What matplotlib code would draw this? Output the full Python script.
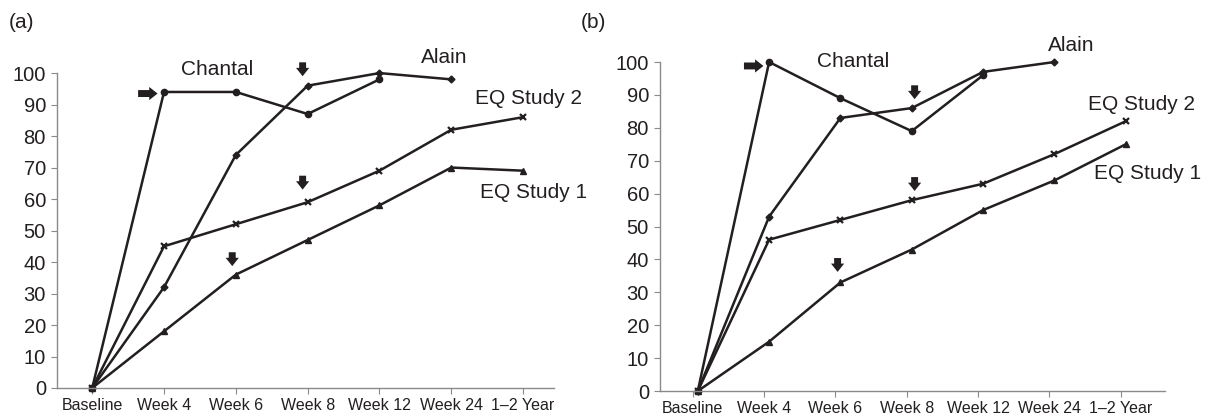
import numpy as np
import matplotlib
matplotlib.use('Agg')
import matplotlib.pyplot as plt

plt.rcParams['font.family'] = ['Liberation Sans', 'DejaVu Sans']

categories = ['Baseline', 'Week 4', 'Week 6', 'Week 8', 'Week 12', 'Week 24', '1\u20132 Year']

# panel (a)
chantal_a = [0, 94, 94, 87, 98]
alain_a = [0, 32, 74, 96, 100, 98]
eq2_a = [0, 45, 52, 59, 69, 82, 86]
eq1_a = [0, 18, 36, 47, 58, 70, 69]

# panel (b)
chantal_b = [0, 100, 89, 79, 96]
alain_b = [0, 53, 83, 86, 97, 100]
eq2_b = [0, 46, 52, 58, 63, 72, 82]
eq1_b = [0, 15, 33, 43, 55, 64, 75]

INK = '#231f20'


def arrow(ax, x, y, direction):
    # block arrow, tip at (x, y)
    if direction == 'down':
        off = (0, 10)
    else:
        off = (-14, 0)
    ax.annotate('', xy=(x, y), xytext=off, textcoords='offset points',
                arrowprops=dict(arrowstyle='simple,head_length=0.6,head_width=0.95,tail_width=0.5',
                                color=INK, lw=0, shrinkA=0, shrinkB=0),
                annotation_clip=False)


def draw_panel(ax, chantal, alain, eq2, eq1, shift):
    x = np.arange(len(categories)) + shift
    kw = dict(color=INK, lw=1.8, clip_on=False)
    ax.plot(x[:len(chantal)], chantal, marker='o', ms=4.5, **kw)
    ax.plot(x[:len(alain)], alain, marker='D', ms=3.5, **kw)
    ax.plot(x[:len(eq2)], eq2, marker='x', ms=5, mew=1.6, **kw)
    ax.plot(x[:len(eq1)], eq1, marker='^', ms=4.5, **kw)

    ax.set_ylim(0, 100)
    ax.set_yticks(range(0, 101, 10))
    ax.set_xticks(np.arange(len(categories)))
    ax.set_xticklabels(categories, fontsize=11.5, color=INK)
    for s in ['top', 'right']:
        ax.spines[s].set_visible(False)
    for s in ['left', 'bottom']:
        ax.spines[s].set_color('#8a8a8a')
        ax.spines[s].set_linewidth(1.0)
    ax.tick_params(axis='y', labelsize=14.5, colors='#8a8a8a', labelcolor=INK, length=4, pad=4)
    ax.tick_params(axis='x', colors='#8a8a8a', labelcolor=INK, length=4, pad=3)


fig = plt.figure(figsize=(12.13, 4.19), dpi=100)

ax1 = fig.add_axes([0.047, 0.074, 0.4097, 0.7516])
draw_panel(ax1, chantal_a, alain_a, eq2_a, eq1_a, 0.0)
ax1.set_xlim(-0.49, 6.43)
ax1.text(1.74, 101, 'Chantal', fontsize=15, color=INK, ha='center', va='center')
ax1.text(4.9, 104.8, 'Alain', fontsize=15, color=INK, ha='center', va='center')
ax1.text(6.07, 92, 'EQ Study 2', fontsize=15, color=INK, ha='center', va='center')
ax1.text(6.15, 62, 'EQ Study 1', fontsize=15, color=INK, ha='center', va='center')
arrow(ax1, 0.91, 93.5, 'right')
arrow(ax1, 2.93, 99, 'down')
arrow(ax1, 2.93, 63, 'down')
arrow(ax1, 1.95, 38.7, 'down')

ax2 = fig.add_axes([0.5441, 0.0668, 0.4163, 0.7852])
draw_panel(ax2, chantal_b, alain_b, eq2_b, eq1_b, 0.07)
ax2.set_xlim(-0.46, 6.62)
ax2.text(2.25, 100.3, 'Chantal', fontsize=15, color=INK, ha='center', va='center')
ax2.text(5.31, 104.9, 'Alain', fontsize=15, color=INK, ha='center', va='center')
ax2.text(6.29, 87.2, 'EQ Study 2', fontsize=15, color=INK, ha='center', va='center')
ax2.text(6.38, 66, 'EQ Study 1', fontsize=15, color=INK, ha='center', va='center')
arrow(ax2, 0.99, 98.8, 'right')
arrow(ax2, 3.11, 88.7, 'down')
arrow(ax2, 3.11, 60.8, 'down')
arrow(ax2, 2.03, 36.2, 'down')

fig.text(0.018, 0.947, '(a)', fontsize=15, color=INK, ha='center', va='center')
fig.text(0.489, 0.947, '(b)', fontsize=15, color=INK, ha='center', va='center')

fig.savefig('out.png', dpi=100)
